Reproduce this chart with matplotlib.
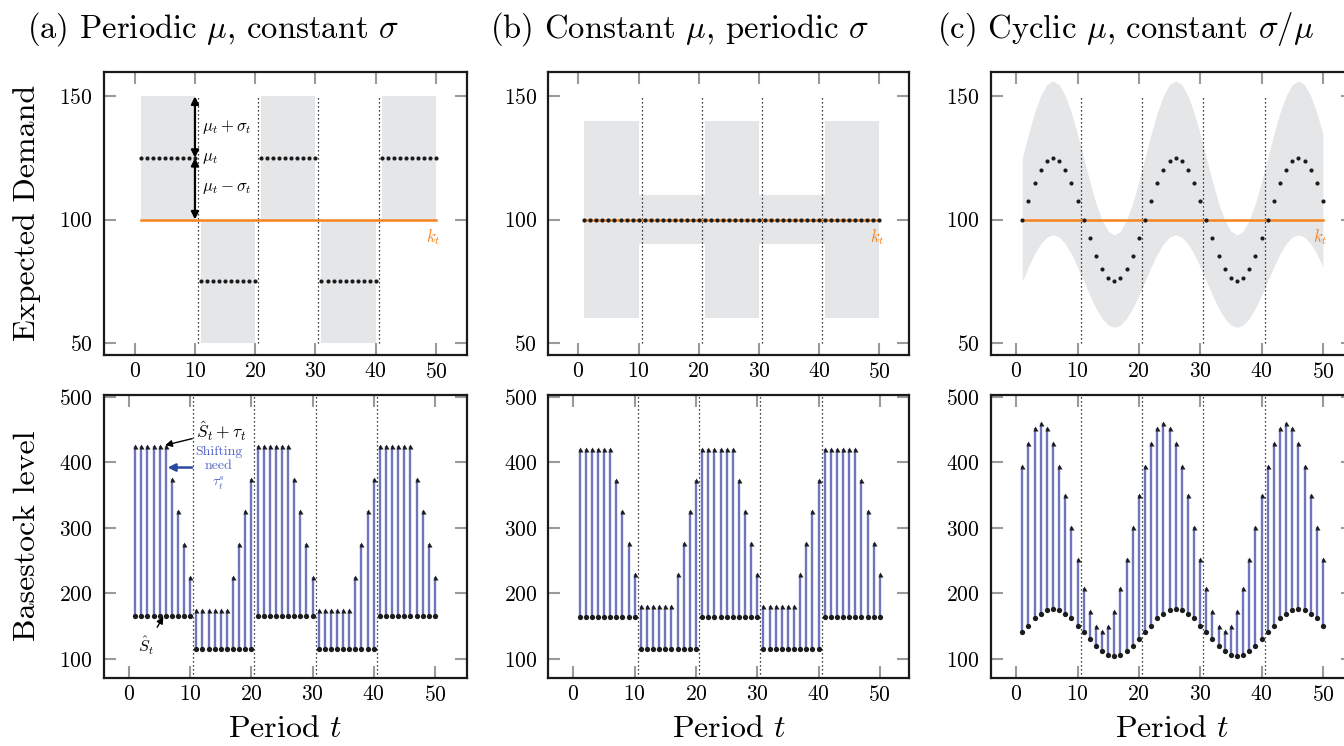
import numpy as np
import matplotlib
matplotlib.use("Agg")
import matplotlib.pyplot as plt

plt.rcParams['font.family'] = 'cmr10'
plt.rcParams['mathtext.fontset'] = 'cm'
plt.rcParams['axes.formatter.use_mathtext'] = True

# ---------------- data ----------------
periods = np.arange(1, 51)

# (a) periodic mu, constant sigma
mu_a = [125]*10 + [75]*10 + [125]*10 + [75]*10 + [125]*10
sigma_a = [25]*50
k_a = [100]*50
base_a = [165]*10 + [115]*10 + [165]*10 + [115]*10 + [165]*10
top_a = [425, 425, 425, 425, 425, 425, 375, 325, 275, 225,
         175, 175, 175, 175, 175, 175, 225, 275, 325, 375,
         425, 425, 425, 425, 425, 425, 375, 325, 275, 225,
         175, 175, 175, 175, 175, 175, 225, 275, 325, 375,
         425, 425, 425, 425, 425, 425, 375, 325, 275, 225]

# (b) constant mu, periodic sigma
mu_b = [100]*50
sigma_b = [40]*10 + [10]*10 + [40]*10 + [10]*10 + [40]*10
k_b = [100]*50
base_b = [164]*10 + [116]*10 + [164]*10 + [116]*10 + [164]*10
top_b = [421, 421, 421, 421, 421, 421, 373, 325, 277, 229,
         181, 181, 181, 181, 181, 181, 229, 277, 325, 373,
         421, 421, 421, 421, 421, 421, 373, 325, 277, 229,
         181, 181, 181, 181, 181, 181, 229, 277, 325, 373,
         421, 421, 421, 421, 421, 421, 373, 325, 277, 229]

# (c) cyclic mu, constant sigma/mu
mu_c = [100, 107.7, 114.7, 120.2, 123.8, 125, 123.8, 120.2, 114.7, 107.7,
        100, 92.3, 85.3, 79.8, 76.2, 75, 76.2, 79.8, 85.3, 92.3,
        100, 107.7, 114.7, 120.2, 123.8, 125, 123.8, 120.2, 114.7, 107.7,
        100, 92.3, 85.3, 79.8, 76.2, 75, 76.2, 79.8, 85.3, 92.3,
        100, 107.7, 114.7, 120.2, 123.8, 125, 123.8, 120.2, 114.7, 107.7]
cv_c = 0.25
k_c = [100]*50
base_c = [141, 151, 162, 169, 174, 176, 174, 169, 162, 151,
          141, 130, 120, 112, 106, 105, 106, 112, 120, 130,
          141, 151, 162, 169, 174, 176, 174, 169, 162, 151,
          141, 130, 120, 112, 106, 105, 106, 112, 120, 130,
          141, 151, 162, 169, 174, 176, 174, 169, 162, 151]
top_c = [394, 430, 452, 460, 452, 430, 394, 350, 302, 252,
         208, 173, 151, 143, 151, 173, 208, 252, 302, 350,
         394, 430, 452, 460, 452, 430, 394, 350, 302, 252,
         208, 173, 151, 143, 151, 173, 208, 252, 302, 350,
         394, 430, 452, 460, 452, 430, 394, 350, 302, 252]

titles = [r'(a) Periodic $\mu$, constant $\sigma$',
          r'(b) Constant $\mu$, periodic $\sigma$',
          r'(c) Cyclic $\mu$, constant $\sigma/\mu$']
xticks = [0, 10, 20, 30, 40, 50]
yticks_top = [50, 100, 150]
yticks_bot = [100, 200, 300, 400, 500]
switch_points = [10.5, 20.5, 30.5, 40.5]

# ---------------- style ----------------
W, H = 1344, 746
BAND = '#e5e6e8'
ORANGE = '#f5821f'
STEM = '#6f76bd'
DOT = '#1c1c1c'
TICKC = '#9a9a9a'

fig = plt.figure(figsize=(W/100, H/100), dpi=100)

def px_rect(x0, x1, y0, y1):
    return [x0/W, 1 - y1/H, (x1-x0)/W, (y1-y0)/H]

lefts = [(104, 466.7), (548.3, 909.3), (991, 1353)]
top_y = (71.7, 355)
bot_y = (395, 677.7)
xl_top = [(-5.1, 55.1), (-5.0, 55.0), (-4.1, 54.9)]
xl_bot = [(-4.1, 55.2), (-4.1, 54.8), (-4.1, 54.9)]

def style(ax):
    for s in ax.spines.values():
        s.set_linewidth(1.6)
        s.set_color('#1a1a1a')
    ax.tick_params(direction='in', length=8.5, width=1.5, color=TICKC,
                   top=True, right=True, labelsize=15.5, pad=5)
    ax.tick_params(axis='y', pad=8)

axes_top, axes_bot = [], []
for i in range(3):
    at = fig.add_axes(px_rect(lefts[i][0], lefts[i][1], *top_y))
    ab = fig.add_axes(px_rect(lefts[i][0], lefts[i][1], *bot_y))
    for ax in (at, ab):
        style(ax)
        ax.set_xticks(xticks)
    at.set_yticks(yticks_top)
    ab.set_yticks(yticks_bot)
    at.set_xlim(*xl_top[i])
    ab.set_xlim(*xl_bot[i])
    at.set_ylim(45, 160)
    ab.set_ylim(71.5, 502.6)
    axes_top.append(at)
    axes_bot.append(ab)

mus = [np.array(mu_a, float), np.array(mu_b, float), np.array(mu_c, float)]
sigs = [np.array(sigma_a, float), np.array(sigma_b, float), cv_c*np.array(mu_c, float)]
ks = [k_a, k_b, k_c]
bases = [base_a, base_b, base_c]
tops = [top_a, top_b, top_c]

# ---- top row ----
for i, ax in enumerate(axes_top):
    mu, sg = mus[i], sigs[i]
    lo, hi = mu - sg, mu + sg
    if i == 0:
        for s in range(0, 50, 10):
            ax.fill_between(periods[s:s+10], lo[s:s+10], hi[s:s+10],
                            color=BAND, lw=0, zorder=1)
    elif i == 1:
        for s in (10, 30):  # narrow blocks, spanning to neighbours
            ax.fill_between([periods[s]-1, periods[s+9]+1], [lo[s]]*2, [hi[s]]*2,
                            color=BAND, lw=0, zorder=1)
        for s in (0, 20, 40):
            ax.fill_between(periods[s:s+10], lo[s:s+10], hi[s:s+10],
                            color=BAND, lw=0, zorder=1)
    else:
        ax.fill_between(periods, lo, hi, color=BAND, lw=0, zorder=1)
    ax.vlines(switch_points, 50, 150, colors='k', linestyles=(0, (1, 2.2)),
              lw=0.9, zorder=2)
    ax.plot(periods, ks[i], color=ORANGE, lw=1.8, zorder=3)
    ax.plot(periods, mu, 'o', ms=3.0, color=DOT, mec='none', zorder=4)
    ax.text(49.6, 97, r'$k_t$', color=ORANGE, fontsize=12, ha='center', va='top')

# annotations in (a) top
a0 = axes_top[0]
arr = dict(arrowstyle='<|-|>', color='k', lw=1.6, mutation_scale=11,
           shrinkA=0, shrinkB=0)
a0.annotate('', xy=(10, 150), xytext=(10, 125), arrowprops=arr, zorder=5)
a0.annotate('', xy=(10, 125), xytext=(10, 100), arrowprops=arr, zorder=5)
a0.text(11.1, 137.5, r'$\mu_t+\sigma_t$', fontsize=12, ha='left', va='center')
a0.text(11.1, 125, r'$\mu_t$', fontsize=12, ha='left', va='center')
a0.text(11.1, 112.5, r'$\mu_t-\sigma_t$', fontsize=12, ha='left', va='center')

# ---- bottom row ----
for i, ax in enumerate(axes_bot):
    for xv in switch_points:
        ax.axvline(xv, color='k', linestyle=(0, (1, 2.2)), lw=0.9, zorder=1)
    ax.vlines(periods, bases[i], tops[i], colors=STEM, lw=1.7, zorder=2)
    ax.plot(periods, tops[i], '^', ms=3.6, color=DOT, mec='none', zorder=3)
    ax.plot(periods, bases[i], 'o', ms=3.8, color=DOT, mec='none', zorder=3)

b0 = axes_bot[0]
b0.annotate(r'$\hat{S}_t+\tau_t$', xy=(5.9, 426), xytext=(11.0, 447),
            fontsize=12.5, ha='left', va='center',
            arrowprops=dict(arrowstyle='-|>', color='k', lw=1.0,
                            mutation_scale=10, shrinkA=1, shrinkB=0))
b0.text(14.7, 390, 'Shifting\nneed\n' + r'$\tau_t^s$', fontsize=10, color='#5565c4',
        ha='center', va='center', linespacing=1.2)
b0.annotate('', xy=(6.3, 392), xytext=(10.3, 392),
            arrowprops=dict(arrowstyle='-|>', color='#2c48a0', lw=1.8,
                            mutation_scale=11, shrinkA=0, shrinkB=0))
b0.annotate(r'$\hat{S}_t$', xy=(5.6, 164.5), xytext=(2.8, 120),
            fontsize=11.5, ha='center', va='center',
            arrowprops=dict(arrowstyle='-|>', color='k', lw=1.0,
                            mutation_scale=10, shrinkA=4, shrinkB=0))

# ---- titles and labels ----
title_x = [213, 680, 1126]
for i in range(3):
    fig.text(title_x[i]/W, 1 - 38/H, titles[i], fontsize=23.5, ha='center',
             va='baseline')
    cx = (lefts[i][0] + min(lefts[i][1], 1353)) / 2
    fig.text(cx/W, 1 - 737/H, r'Period $t$', fontsize=23, ha='center', va='baseline')

fig.text(27/W, 1 - 213/H, 'Expected Demand', fontsize=23, rotation=90,
         ha='center', va='center')
fig.text(27/W, 1 - 536/H, 'Basestock level', fontsize=23, rotation=90,
         ha='center', va='center')

fig.savefig('out.png', dpi=100)
